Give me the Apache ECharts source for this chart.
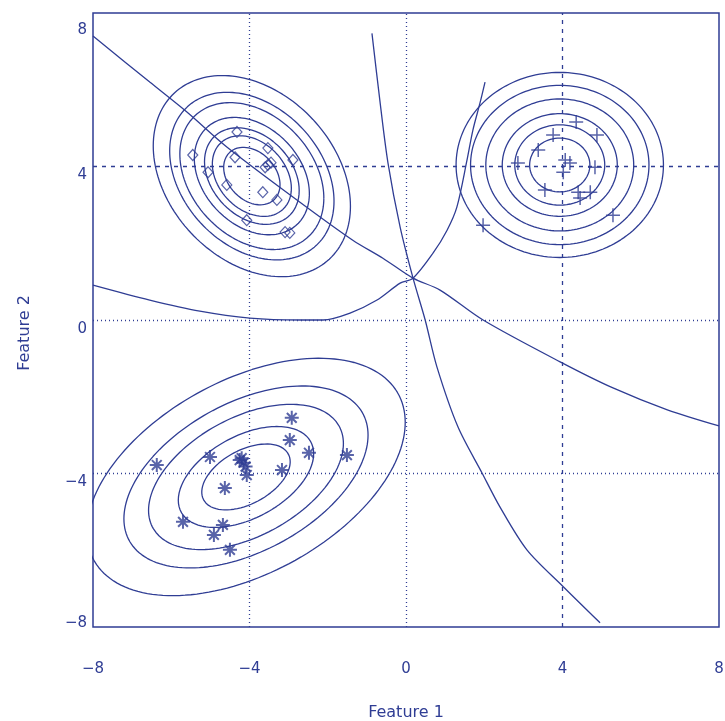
<!DOCTYPE html>
<html>
<head>
<meta charset="utf-8">
<script src="https://cdn.jsdelivr.net/npm/echarts@6/dist/echarts.min.js"></script>
<style>
  html, body { margin: 0; padding: 0; background: #fff; }
  #chart { width: 725px; height: 721px; }
</style>
</head>
<body>
<div id="chart"></div>
<script>
// 颜色
var NAVY = '#2f3d94';

// 坐标刻度
var xTicks = [-8, -4, 0, 4, 8];
var yTicks = [-8, -4, 0, 4, 8];
var dottedX = [-4, 0];
var dashedX = [4];
var dottedY = [-4, 0];
var dashedY = [4];

// 三类样本点
var diamondPts = [
  [-4.32, 4.90], [-3.53, 4.48], [-2.89, 4.17], [-5.45, 4.30], [-5.06, 3.85],
  [-4.37, 4.24], [-3.53, 4.04], [-3.60, 3.98], [-3.45, 4.10], [-4.58, 3.52],
  [-3.66, 3.33], [-3.30, 3.13], [-4.07, 2.60], [-3.09, 2.29], [-2.97, 2.27]
];
var plusPts = [
  [4.35, 5.16], [3.76, 4.82], [4.88, 4.82], [3.38, 4.43], [2.86, 4.09],
  [4.07, 4.17], [4.19, 4.09], [4.02, 3.85], [4.83, 3.98], [3.55, 3.39],
  [4.40, 3.33], [4.71, 3.33], [4.45, 3.18], [5.29, 2.73], [1.97, 2.47]
];
var starPts = [
  [-6.37, -3.78], [-5.01, -3.57], [-4.25, -3.65], [-4.20, -3.60], [-4.15, -3.72],
  [-4.10, -3.82], [-4.07, -4.04], [-4.63, -4.38], [-3.17, -3.91], [-2.92, -2.55],
  [-2.97, -3.13], [-2.48, -3.46], [-1.51, -3.52], [-5.70, -5.26], [-4.68, -5.34],
  [-4.91, -5.60], [-4.50, -5.99]
];

// 判别边界
var boundaryA = [
  [-8.0, 7.40], [-6.55, 6.20], [-5.60, 5.42], [-4.58, 4.51], [-2.71, 3.07],
  [-1.36, 2.08], [-0.59, 1.61], [0.18, 1.09], [0.87, 0.78], [1.97, 0.0],
  [3.94, -1.09], [5.29, -1.77], [6.68, -2.34], [8.0, -2.76]
];
var boundaryB = [
  [-0.87, 7.47], [-0.66, 5.65], [-0.46, 4.09], [-0.15, 2.42], [0.18, 1.09],
  [0.49, 0.0], [0.79, -1.22], [1.33, -2.79], [1.94, -3.98], [2.40, -4.87],
  [3.09, -5.99], [4.02, -6.95], [4.96, -7.89]
];
var boundaryC = [
  [-8.0, 0.91], [-6.55, 0.52], [-5.27, 0.23], [-3.99, 0.05], [-2.71, 0.0],
  [-2.12, 0.0], [-1.43, 0.18], [-0.74, 0.52], [-0.15, 0.96], [0.18, 1.09],
  [0.69, 1.74], [1.05, 2.34], [1.30, 2.94], [1.56, 4.17], [1.71, 4.95],
  [1.89, 5.65], [2.02, 6.20]
];

// 等高线椭圆参数: 中心, y/x 比例, 相关系数, 各圈 x 半径
var centers = [[-3.94, 3.75], [3.93, 4.04], [-4.09, -4.09]];
var aspect = [1.04, 0.91, 0.76];
var rhos = [-0.3, 0.0, 0.46];
var ringRadii = [
  [2.52, 2.10, 1.84, 1.47, 1.21, 1.01, 0.72],
  [2.65, 2.28, 1.89, 1.47, 1.15, 0.77],
  [4.07, 3.12, 2.49, 1.73, 1.13]
];

function ellipse(c, k, rho, r) {
  var pts = [];
  var n = 160;
  for (var i = 0; i <= n; i++) {
    var t = 2 * Math.PI * i / n;
    var x = c[0] + r * Math.cos(t);
    var y = c[1] + r * k * (rho * Math.cos(t) + Math.sqrt(1 - rho * rho) * Math.sin(t));
    pts.push([x, y]);
  }
  return pts;
}

function fmt(v) {
  return String(v).replace('-', '\u2212');
}

var series = [];

// 网格线
var gridMarks = [];
dottedX.forEach(function (v) { gridMarks.push({ xAxis: v, lineStyle: { type: [1, 3] } }); });
dashedX.forEach(function (v) { gridMarks.push({ xAxis: v, lineStyle: { type: [4, 5] } }); });
dottedY.forEach(function (v) { gridMarks.push({ yAxis: v, lineStyle: { type: [1, 3] } }); });
dashedY.forEach(function (v) { gridMarks.push({ yAxis: v, lineStyle: { type: [4, 5] } }); });
series.push({
  type: 'line',
  data: [],
  markLine: {
    silent: true,
    symbol: 'none',
    label: { show: false },
    lineStyle: { color: NAVY, width: 1.3 },
    data: gridMarks
  }
});

// 等高线
centers.forEach(function (c, i) {
  ringRadii[i].forEach(function (r) {
    series.push({
      type: 'line',
      data: ellipse(c, aspect[i], rhos[i], r),
      showSymbol: false,
      silent: true,
      lineStyle: { color: NAVY, width: 1.3 }
    });
  });
});

// 判别边界
[boundaryA, boundaryB, boundaryC].forEach(function (b) {
  series.push({
    type: 'line',
    data: b,
    smooth: 0.3,
    showSymbol: false,
    silent: true,
    lineStyle: { color: NAVY, width: 1.3 }
  });
});

// 样本点
series.push({
  type: 'scatter',
  data: diamondPts,
  symbol: 'diamond',
  symbolSize: [10, 11],
  itemStyle: { color: 'rgba(0,0,0,0)', borderColor: NAVY, borderWidth: 1.2 }
});
series.push({
  type: 'scatter',
  data: plusPts,
  symbol: 'path://M0,5L10,5M5,0L5,10',
  symbolSize: 14,
  itemStyle: { color: 'rgba(0,0,0,0)', borderColor: NAVY, borderWidth: 1.5 }
});
series.push({
  type: 'scatter',
  data: starPts,
  symbol: 'path://M0,5L10,5M5,0L5,10M1.5,1.5L8.5,8.5M8.5,1.5L1.5,8.5',
  symbolSize: 14,
  itemStyle: { color: 'rgba(0,0,0,0)', borderColor: NAVY, borderWidth: 2 }
});

var myChart = echarts.init(document.getElementById('chart'));
var option = {
  animation: false,
  backgroundColor: '#fff',
  grid: {
    left: 93, right: 6, top: 13, bottom: 94,
    outerBoundsMode: 'none', containLabel: false,
    show: true, borderColor: NAVY, borderWidth: 1.5
  },
  xAxis: {
    type: 'value', min: xTicks[0], max: xTicks[xTicks.length - 1], interval: 4,
    axisLine: { show: false }, axisTick: { show: false }, splitLine: { show: false },
    axisLabel: { color: NAVY, fontFamily: 'DejaVu Sans', fontSize: 15, margin: 35, formatter: fmt },
    name: 'Feature 1', nameLocation: 'middle', nameGap: 78,
    nameTextStyle: { color: NAVY, fontFamily: 'DejaVu Sans', fontSize: 16 }
  },
  yAxis: {
    type: 'value', min: yTicks[0], max: yTicks[yTicks.length - 1], interval: 4,
    axisLine: { show: false }, axisTick: { show: false }, splitLine: { show: false },
    axisLabel: {
      color: NAVY, fontFamily: 'DejaVu Sans', fontSize: 15, margin: 6,
      formatter: function (v) {
        if (v === 8) return '{hi|' + fmt(v) + '}';
        if (v === -8) return '{lo|' + fmt(v) + '}';
        return '{mid|' + fmt(v) + '}';
      },
      rich: {
        hi: { color: NAVY, fontFamily: 'DejaVu Sans', fontSize: 15, padding: [34, 0, 0, 0] },
        lo: { color: NAVY, fontFamily: 'DejaVu Sans', fontSize: 15, padding: [0, 0, 8, 0] },
        mid: { color: NAVY, fontFamily: 'DejaVu Sans', fontSize: 15, padding: [18, 0, 0, 0] }
      }
    },
    name: 'Feature 2', nameLocation: 'middle', nameGap: 60, nameRotate: 90,
    nameTextStyle: { color: NAVY, fontFamily: 'DejaVu Sans', fontSize: 16, padding: [0, 26, 0, 0] }
  },
  series: series
};
myChart.setOption(option);
</script>
</body>
</html>
